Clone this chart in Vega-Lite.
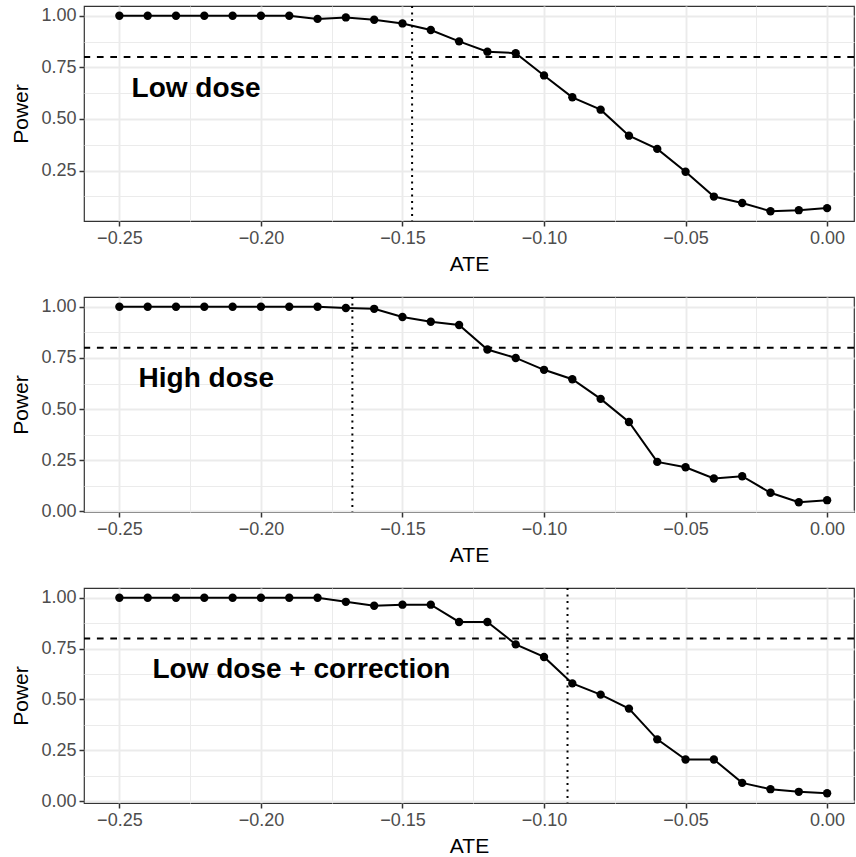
{
  "$schema": "https://vega.github.io/schema/vega-lite/v6.json",
  "background": "white",
  "padding": {"left": 9, "top": 4, "right": 0, "bottom": 0},
  "spacing": 76,
  "bounds": "flush",
  "datasets": {
    "curves": [
      {"panel": "low", "ate": -0.25, "power": 1.0},
      {"panel": "low", "ate": -0.24, "power": 1.0},
      {"panel": "low", "ate": -0.23, "power": 1.0},
      {"panel": "low", "ate": -0.22, "power": 1.0},
      {"panel": "low", "ate": -0.21, "power": 1.0},
      {"panel": "low", "ate": -0.20, "power": 1.0},
      {"panel": "low", "ate": -0.19, "power": 1.0},
      {"panel": "low", "ate": -0.18, "power": 0.985},
      {"panel": "low", "ate": -0.17, "power": 0.992},
      {"panel": "low", "ate": -0.16, "power": 0.981},
      {"panel": "low", "ate": -0.15, "power": 0.963},
      {"panel": "low", "ate": -0.14, "power": 0.931},
      {"panel": "low", "ate": -0.13, "power": 0.876},
      {"panel": "low", "ate": -0.12, "power": 0.826},
      {"panel": "low", "ate": -0.11, "power": 0.819},
      {"panel": "low", "ate": -0.10, "power": 0.711},
      {"panel": "low", "ate": -0.09, "power": 0.605},
      {"panel": "low", "ate": -0.08, "power": 0.545},
      {"panel": "low", "ate": -0.07, "power": 0.419},
      {"panel": "low", "ate": -0.06, "power": 0.355},
      {"panel": "low", "ate": -0.05, "power": 0.244},
      {"panel": "low", "ate": -0.04, "power": 0.124},
      {"panel": "low", "ate": -0.03, "power": 0.093},
      {"panel": "low", "ate": -0.02, "power": 0.053},
      {"panel": "low", "ate": -0.01, "power": 0.058},
      {"panel": "low", "ate": 0.00, "power": 0.068},
      {"panel": "high", "ate": -0.25, "power": 1.0},
      {"panel": "high", "ate": -0.24, "power": 1.0},
      {"panel": "high", "ate": -0.23, "power": 1.0},
      {"panel": "high", "ate": -0.22, "power": 1.0},
      {"panel": "high", "ate": -0.21, "power": 1.0},
      {"panel": "high", "ate": -0.20, "power": 1.0},
      {"panel": "high", "ate": -0.19, "power": 1.0},
      {"panel": "high", "ate": -0.18, "power": 1.0},
      {"panel": "high", "ate": -0.17, "power": 0.994},
      {"panel": "high", "ate": -0.16, "power": 0.990},
      {"panel": "high", "ate": -0.15, "power": 0.950},
      {"panel": "high", "ate": -0.14, "power": 0.927},
      {"panel": "high", "ate": -0.13, "power": 0.911},
      {"panel": "high", "ate": -0.12, "power": 0.791},
      {"panel": "high", "ate": -0.11, "power": 0.750},
      {"panel": "high", "ate": -0.10, "power": 0.692},
      {"panel": "high", "ate": -0.09, "power": 0.646},
      {"panel": "high", "ate": -0.08, "power": 0.550},
      {"panel": "high", "ate": -0.07, "power": 0.437},
      {"panel": "high", "ate": -0.06, "power": 0.242},
      {"panel": "high", "ate": -0.05, "power": 0.216},
      {"panel": "high", "ate": -0.04, "power": 0.161},
      {"panel": "high", "ate": -0.03, "power": 0.172},
      {"panel": "high", "ate": -0.02, "power": 0.091},
      {"panel": "high", "ate": -0.01, "power": 0.045},
      {"panel": "high", "ate": 0.00, "power": 0.055},
      {"panel": "corr", "ate": -0.25, "power": 1.0},
      {"panel": "corr", "ate": -0.24, "power": 1.0},
      {"panel": "corr", "ate": -0.23, "power": 1.0},
      {"panel": "corr", "ate": -0.22, "power": 1.0},
      {"panel": "corr", "ate": -0.21, "power": 1.0},
      {"panel": "corr", "ate": -0.20, "power": 1.0},
      {"panel": "corr", "ate": -0.19, "power": 1.0},
      {"panel": "corr", "ate": -0.18, "power": 1.0},
      {"panel": "corr", "ate": -0.17, "power": 0.980},
      {"panel": "corr", "ate": -0.16, "power": 0.961},
      {"panel": "corr", "ate": -0.15, "power": 0.966},
      {"panel": "corr", "ate": -0.14, "power": 0.966},
      {"panel": "corr", "ate": -0.13, "power": 0.881},
      {"panel": "corr", "ate": -0.12, "power": 0.881},
      {"panel": "corr", "ate": -0.11, "power": 0.771},
      {"panel": "corr", "ate": -0.10, "power": 0.709},
      {"panel": "corr", "ate": -0.09, "power": 0.579},
      {"panel": "corr", "ate": -0.08, "power": 0.524},
      {"panel": "corr", "ate": -0.07, "power": 0.455},
      {"panel": "corr", "ate": -0.06, "power": 0.304},
      {"panel": "corr", "ate": -0.05, "power": 0.205},
      {"panel": "corr", "ate": -0.04, "power": 0.205},
      {"panel": "corr", "ate": -0.03, "power": 0.090},
      {"panel": "corr", "ate": -0.02, "power": 0.059},
      {"panel": "corr", "ate": -0.01, "power": 0.046},
      {"panel": "corr", "ate": 0.00, "power": 0.039}
    ],
    "thresholds": [
      {"panel": "low", "ate": -0.1466, "target": 0.8},
      {"panel": "high", "ate": -0.1677, "target": 0.8},
      {"panel": "corr", "ate": -0.0917, "target": 0.8}
    ],
    "annotations": [
      {"panel": "low", "ate": -0.2229, "power": 0.606, "label": "Low dose"},
      {"panel": "high", "ate": -0.2193, "power": 0.607, "label": "High dose"},
      {"panel": "corr", "ate": -0.1857, "power": 0.607, "label": "Low dose + correction"}
    ]
  },
  "vconcat": [
    {
      "width": 770,
      "height": 215,
      "layer": [
        {
          "data": {"name": "thresholds"},
          "transform": [{"filter": "datum.panel === 'low'"}],
          "mark": {"type": "rule", "color": "black", "strokeWidth": 2, "strokeDash": [6.7, 6.7]},
          "encoding": {"y": {"field": "target", "type": "quantitative"}}
        },
        {
          "data": {"name": "thresholds"},
          "transform": [{"filter": "datum.panel === 'low'"}],
          "mark": {"type": "rule", "color": "black", "strokeWidth": 2, "strokeDash": [2, 4.5]},
          "encoding": {"x": {"field": "ate", "type": "quantitative"}}
        },
        {
          "data": {"name": "curves"},
          "transform": [{"filter": "datum.panel === 'low'"}],
          "mark": {"type": "line", "color": "black", "strokeWidth": 2},
          "encoding": {
            "x": {
              "field": "ate", "type": "quantitative",
              "scale": {"domain": [-0.2625, 0.0095], "zero": false, "nice": false},
              "axis": {
                "title": "ATE", "titlePadding": 6, "tickCount": 40,
                "values": [-0.25, -0.225, -0.2, -0.175, -0.15, -0.125, -0.1, -0.075, -0.05, -0.025, 0],
                "labelExpr": "abs(datum.value*20 - round(datum.value*20)) < 0.01 ? format(datum.value, '.2f') : ''",
                "tickOpacity": {"condition": {"test": "abs(datum.value*20 - round(datum.value*20)) < 0.01", "value": 1}, "value": 0},
                "gridWidth": {"condition": {"test": "abs(datum.value*20 - round(datum.value*20)) < 0.01", "value": 1.9}, "value": 1},
                "labelOverlap": false, "labelFlush": false
              }
            },
            "y": {
              "field": "power", "type": "quantitative",
              "scale": {"domain": [0.0056, 1.0474], "zero": false, "nice": false},
              "axis": {
                "title": "Power", "titlePadding": 1, "minExtent": 52, "maxExtent": 52, "tickCount": 40,
                "values": [0.125, 0.25, 0.375, 0.5, 0.625, 0.75, 0.875, 1],
                "labelExpr": "abs(datum.value*4 - round(datum.value*4)) < 0.01 ? format(datum.value, '.2f') : ''",
                "tickOpacity": {"condition": {"test": "abs(datum.value*4 - round(datum.value*4)) < 0.01", "value": 1}, "value": 0},
                "gridWidth": {"condition": {"test": "abs(datum.value*4 - round(datum.value*4)) < 0.01", "value": 1.9}, "value": 1},
                "labelOverlap": false, "labelFlush": false
              }
            }
          }
        },
        {
          "data": {"name": "curves"},
          "transform": [{"filter": "datum.panel === 'low'"}],
          "mark": {"type": "circle", "color": "black", "size": 70, "opacity": 1},
          "encoding": {
            "x": {"field": "ate", "type": "quantitative"},
            "y": {"field": "power", "type": "quantitative"}
          }
        },
        {
          "data": {"name": "annotations"},
          "transform": [{"filter": "datum.panel === 'low'"}],
          "mark": {"type": "text", "font": "Liberation Sans", "fontWeight": "bold", "fontSize": 28, "align": "center", "baseline": "alphabetic", "color": "black"},
          "encoding": {
            "x": {"field": "ate", "type": "quantitative"},
            "y": {"field": "power", "type": "quantitative"},
            "text": {"field": "label"}
          }
        }
      ]
    },
    {
      "width": 770,
      "height": 215,
      "layer": [
        {
          "data": {"name": "thresholds"},
          "transform": [{"filter": "datum.panel === 'high'"}],
          "mark": {"type": "rule", "color": "black", "strokeWidth": 2, "strokeDash": [6.7, 6.7]},
          "encoding": {"y": {"field": "target", "type": "quantitative"}}
        },
        {
          "data": {"name": "thresholds"},
          "transform": [{"filter": "datum.panel === 'high'"}],
          "mark": {"type": "rule", "color": "black", "strokeWidth": 2, "strokeDash": [2, 4.5]},
          "encoding": {"x": {"field": "ate", "type": "quantitative"}}
        },
        {
          "data": {"name": "curves"},
          "transform": [{"filter": "datum.panel === 'high'"}],
          "mark": {"type": "line", "color": "black", "strokeWidth": 2},
          "encoding": {
            "x": {
              "field": "ate", "type": "quantitative",
              "scale": {"domain": [-0.2625, 0.0095], "zero": false, "nice": false},
              "axis": {
                "title": "ATE", "titlePadding": 6, "tickCount": 40,
                "values": [-0.25, -0.225, -0.2, -0.175, -0.15, -0.125, -0.1, -0.075, -0.05, -0.025, 0],
                "labelExpr": "abs(datum.value*20 - round(datum.value*20)) < 0.01 ? format(datum.value, '.2f') : ''",
                "tickOpacity": {"condition": {"test": "abs(datum.value*20 - round(datum.value*20)) < 0.01", "value": 1}, "value": 0},
                "gridWidth": {"condition": {"test": "abs(datum.value*20 - round(datum.value*20)) < 0.01", "value": 1.9}, "value": 1},
                "labelOverlap": false, "labelFlush": false
              }
            },
            "y": {
              "field": "power", "type": "quantitative",
              "scale": {"domain": [-0.0028, 1.0478], "zero": false, "nice": false},
              "axis": {
                "title": "Power", "titlePadding": 1, "minExtent": 52, "maxExtent": 52, "tickCount": 40,
                "values": [0, 0.125, 0.25, 0.375, 0.5, 0.625, 0.75, 0.875, 1],
                "labelExpr": "abs(datum.value*4 - round(datum.value*4)) < 0.01 ? format(datum.value, '.2f') : ''",
                "tickOpacity": {"condition": {"test": "abs(datum.value*4 - round(datum.value*4)) < 0.01", "value": 1}, "value": 0},
                "gridWidth": {"condition": {"test": "abs(datum.value*4 - round(datum.value*4)) < 0.01", "value": 1.9}, "value": 1},
                "labelOverlap": false, "labelFlush": false
              }
            }
          }
        },
        {
          "data": {"name": "curves"},
          "transform": [{"filter": "datum.panel === 'high'"}],
          "mark": {"type": "circle", "color": "black", "size": 70, "opacity": 1},
          "encoding": {
            "x": {"field": "ate", "type": "quantitative"},
            "y": {"field": "power", "type": "quantitative"}
          }
        },
        {
          "data": {"name": "annotations"},
          "transform": [{"filter": "datum.panel === 'high'"}],
          "mark": {"type": "text", "font": "Liberation Sans", "fontWeight": "bold", "fontSize": 28, "align": "center", "baseline": "alphabetic", "color": "black"},
          "encoding": {
            "x": {"field": "ate", "type": "quantitative"},
            "y": {"field": "power", "type": "quantitative"},
            "text": {"field": "label"}
          }
        }
      ]
    },
    {
      "width": 770,
      "height": 215,
      "layer": [
        {
          "data": {"name": "thresholds"},
          "transform": [{"filter": "datum.panel === 'corr'"}],
          "mark": {"type": "rule", "color": "black", "strokeWidth": 2, "strokeDash": [6.7, 6.7]},
          "encoding": {"y": {"field": "target", "type": "quantitative"}}
        },
        {
          "data": {"name": "thresholds"},
          "transform": [{"filter": "datum.panel === 'corr'"}],
          "mark": {"type": "rule", "color": "black", "strokeWidth": 2, "strokeDash": [2, 4.5]},
          "encoding": {"x": {"field": "ate", "type": "quantitative"}}
        },
        {
          "data": {"name": "curves"},
          "transform": [{"filter": "datum.panel === 'corr'"}],
          "mark": {"type": "line", "color": "black", "strokeWidth": 2},
          "encoding": {
            "x": {
              "field": "ate", "type": "quantitative",
              "scale": {"domain": [-0.2625, 0.0095], "zero": false, "nice": false},
              "axis": {
                "title": "ATE", "titlePadding": 6, "tickCount": 40,
                "values": [-0.25, -0.225, -0.2, -0.175, -0.15, -0.125, -0.1, -0.075, -0.05, -0.025, 0],
                "labelExpr": "abs(datum.value*20 - round(datum.value*20)) < 0.01 ? format(datum.value, '.2f') : ''",
                "tickOpacity": {"condition": {"test": "abs(datum.value*20 - round(datum.value*20)) < 0.01", "value": 1}, "value": 0},
                "gridWidth": {"condition": {"test": "abs(datum.value*20 - round(datum.value*20)) < 0.01", "value": 1.9}, "value": 1},
                "labelOverlap": false, "labelFlush": false
              }
            },
            "y": {
              "field": "power", "type": "quantitative",
              "scale": {"domain": [-0.009, 1.048], "zero": false, "nice": false},
              "axis": {
                "title": "Power", "titlePadding": 1, "minExtent": 52, "maxExtent": 52, "tickCount": 40,
                "values": [0, 0.125, 0.25, 0.375, 0.5, 0.625, 0.75, 0.875, 1],
                "labelExpr": "abs(datum.value*4 - round(datum.value*4)) < 0.01 ? format(datum.value, '.2f') : ''",
                "tickOpacity": {"condition": {"test": "abs(datum.value*4 - round(datum.value*4)) < 0.01", "value": 1}, "value": 0},
                "gridWidth": {"condition": {"test": "abs(datum.value*4 - round(datum.value*4)) < 0.01", "value": 1.9}, "value": 1},
                "labelOverlap": false, "labelFlush": false
              }
            }
          }
        },
        {
          "data": {"name": "curves"},
          "transform": [{"filter": "datum.panel === 'corr'"}],
          "mark": {"type": "circle", "color": "black", "size": 70, "opacity": 1},
          "encoding": {
            "x": {"field": "ate", "type": "quantitative"},
            "y": {"field": "power", "type": "quantitative"}
          }
        },
        {
          "data": {"name": "annotations"},
          "transform": [{"filter": "datum.panel === 'corr'"}],
          "mark": {"type": "text", "font": "Liberation Sans", "fontWeight": "bold", "fontSize": 28, "align": "center", "baseline": "alphabetic", "color": "black"},
          "encoding": {
            "x": {"field": "ate", "type": "quantitative"},
            "y": {"field": "power", "type": "quantitative"},
            "text": {"field": "label"}
          }
        }
      ]
    }
  ],
  "config": {
    "view": {"stroke": "#333333", "strokeWidth": 1.2},
    "axis": {
      "domain": false,
      "labelFont": "Liberation Sans",
      "titleFont": "Liberation Sans",
      "labelFontSize": 18,
      "titleFontSize": 21,
      "labelColor": "#4d4d4d",
      "titleColor": "#000000",
      "titleFontWeight": "normal",
      "tickColor": "#333333",
      "tickSize": 5,
      "tickWidth": 1.5,
      "labelPadding": 3,
      "grid": true,
      "gridColor": "#ebebeb"
    }
  }
}
